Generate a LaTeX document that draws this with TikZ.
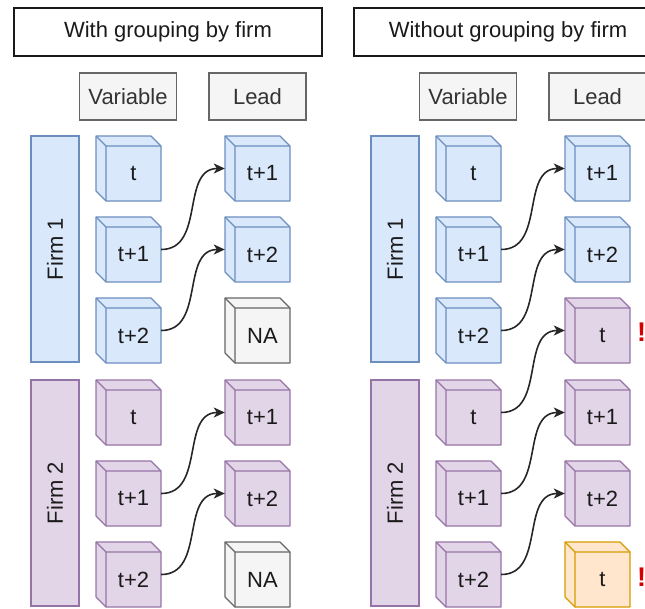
\documentclass[tikz,border=0pt]{standalone}
\usepackage{fontspec}
\setmainfont{Liberation Sans}
\usetikzlibrary{arrows.meta}
\definecolor{bluef}{HTML}{DAE8FC}\definecolor{blued}{HTML}{6C8EBF}
\definecolor{purpf}{HTML}{E1D5E7}\definecolor{purpd}{HTML}{9673A6}
\definecolor{greyf}{HTML}{F5F5F5}\definecolor{greyd}{HTML}{666666}
\definecolor{orf}{HTML}{FFE6CC}\definecolor{ord}{HTML}{D79B00}
\definecolor{txt}{HTML}{1A1A1A}\definecolor{htxt}{HTML}{333333}
\definecolor{warn}{HTML}{D50000}
\tikzset{
  every node/.style={font=\fontsize{22}{26}\selectfont, text=txt},
  titlebox/.style={draw=txt, fill=white, line width=1.5pt, minimum width=308pt, minimum height=48pt, inner sep=0pt},
  headbox/.style={draw=greyd, fill=greyf, line width=1.2pt, minimum width=97pt, minimum height=47pt, inner sep=0pt, text=htxt},
  firmbar/.style={line width=1.2pt, minimum width=48pt, minimum height=226pt, inner sep=0pt},
  cubebox/.style={draw=none, minimum width=65pt, minimum height=65pt, inner sep=0pt},
  cubeline/.style={line width=1.2pt, line join=round},
  conn/.style={draw=black!85, line width=1.6pt, -{Stealth[length=11pt,width=10pt,inset=3pt]}, out=0, in=180, looseness=1.1},
  warnmark/.style={text=warn, font=\fontsize{27}{30}\selectfont\bfseries},
}
\newcommand\mycube[6]{%
  \filldraw[fill=#4,draw=#5,cubeline] (#2,#3) -- ++(55,0) -- ++(10,10) -- ++(0,55) -- ++(-55,0) -- ++(-10,-10) -- cycle;
  \draw[draw=#5,cubeline] (#2,#3) -- ++(10,10) -- ++(55,0) (#2+10,#3+10) -- ++(0,55);
  \node[cubebox] (#1) at (#2+32.5,#3+32.5) {};
  \node at (#2+37.5,#3+37.5) {#6};
}
\begin{document}
\begin{tikzpicture}[x=1pt,y=-1pt]
\useasboundingbox (0,0) rectangle (645,608);
\clip (0,0) rectangle (645,608);
% ---------- left panel ----------
\node[titlebox] (t1) at (168,32) {With grouping by firm};
\node[headbox] (hv1) at (128,96.5) {Variable};
\node[headbox] (hl1) at (257.5,96.5) {Lead};
\node[firmbar, draw=blued, fill=bluef] (f11) at (55,249) {};
\node[rotate=90] (f11t) at (f11.center) {Firm 1};
\node[firmbar, draw=purpd, fill=purpf] (f12) at (55,493) {};
\node[rotate=90] (f12t) at (f12.center) {Firm 2};
\mycube{v1}{96}{136}{bluef}{blued}{t}
\mycube{v2}{96}{217}{bluef}{blued}{t+1}
\mycube{v3}{96}{298}{bluef}{blued}{t+2}
\mycube{v4}{96}{380}{purpf}{purpd}{t}
\mycube{v5}{96}{461}{purpf}{purpd}{t+1}
\mycube{v6}{96}{542}{purpf}{purpd}{t+2}
\mycube{l1}{225}{136}{bluef}{blued}{t+1}
\mycube{l2}{225}{217}{bluef}{blued}{t+2}
\mycube{l3}{225}{298}{greyf}{greyd}{NA}
\mycube{l4}{225}{380}{purpf}{purpd}{t+1}
\mycube{l5}{225}{461}{purpf}{purpd}{t+2}
\mycube{l6}{225}{542}{greyf}{greyd}{NA}
\draw[conn] (v2.east) to (l1.west);
\draw[conn] (v3.east) to (l2.west);
\draw[conn] (v5.east) to (l4.west);
\draw[conn] (v6.east) to (l5.west);
% ---------- right panel ----------
\node[titlebox] (t2) at (508,32) {Without grouping by firm};
\node[headbox] (hv2) at (468,96.5) {Variable};
\node[headbox] (hl2) at (597.5,96.5) {Lead};
\node[firmbar, draw=blued, fill=bluef] (f21) at (395,249) {};
\node[rotate=90] (f21t) at (f21.center) {Firm 1};
\node[firmbar, draw=purpd, fill=purpf] (f22) at (395,493) {};
\node[rotate=90] (f22t) at (f22.center) {Firm 2};
\mycube{rv1}{436}{136}{bluef}{blued}{t}
\mycube{rv2}{436}{217}{bluef}{blued}{t+1}
\mycube{rv3}{436}{298}{bluef}{blued}{t+2}
\mycube{rv4}{436}{380}{purpf}{purpd}{t}
\mycube{rv5}{436}{461}{purpf}{purpd}{t+1}
\mycube{rv6}{436}{542}{purpf}{purpd}{t+2}
\mycube{rl1}{565}{136}{bluef}{blued}{t+1}
\mycube{rl2}{565}{217}{bluef}{blued}{t+2}
\mycube{rl3}{565}{298}{purpf}{purpd}{t}
\mycube{rl4}{565}{380}{purpf}{purpd}{t+1}
\mycube{rl5}{565}{461}{purpf}{purpd}{t+2}
\mycube{rl6}{565}{542}{orf}{ord}{t}
\draw[conn] (rv2.east) to (rl1.west);
\draw[conn] (rv3.east) to (rl2.west);
\draw[conn] (rv4.east) to (rl3.west);
\draw[conn] (rv5.east) to (rl4.west);
\draw[conn] (rv6.east) to (rl5.west);
\node[warnmark] (w1) at (641.5,332) {!};
\node[warnmark] (w2) at (641.5,577) {!};
\end{tikzpicture}
\end{document}
